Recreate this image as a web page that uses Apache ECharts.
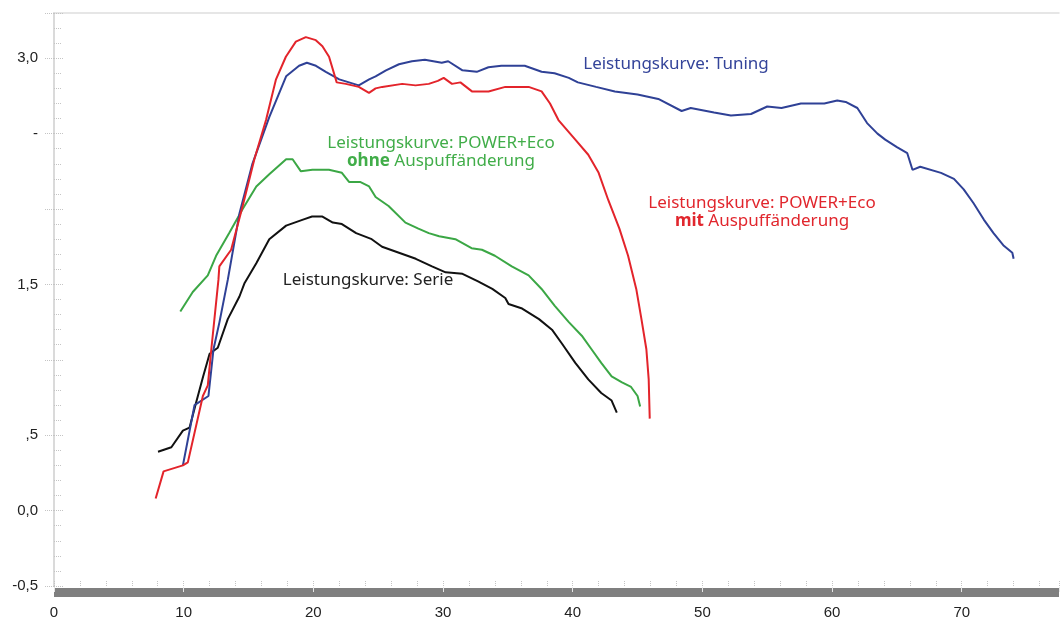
<!DOCTYPE html>
<html>
<head>
<meta charset="utf-8">
<script src="https://cdn.jsdelivr.net/npm/echarts@6/dist/echarts.min.js"></script>
<style>
html,body{margin:0;padding:0;background:#fff;}
#chart{width:1062px;height:620px;}
</style>
</head>
<body>
<div id="chart"></div>
<script>
// ---- data (x, power) ----
const serie = [[8.02,0.39],[9.05,0.42],[9.94,0.53],[10.45,0.55],[10.97,0.72],[11.5,0.89],[12.0,1.04],[12.63,1.08],[13.4,1.27],[14.3,1.42],[14.7,1.51],[15.6,1.64],[16.6,1.80],[17.9,1.89],[19.2,1.93],[19.9,1.95],[20.7,1.95],[21.5,1.91],[22.2,1.90],[23.3,1.84],[24.5,1.80],[25.3,1.75],[26.6,1.71],[27.9,1.67],[29.15,1.62],[30.2,1.58],[31.5,1.57],[32.7,1.52],[33.8,1.47],[34.8,1.41],[35.05,1.37],[36.1,1.34],[37.4,1.27],[38.4,1.20],[39.15,1.11],[40.2,0.98],[41.2,0.87],[42.2,0.78],[43.0,0.73],[43.4,0.65]];
const ohne = [[9.74,1.32],[10.7,1.45],[11.86,1.56],[12.5,1.69],[13.5,1.84],[14.55,2.0],[15.6,2.15],[16.6,2.23],[17.9,2.33],[18.4,2.33],[19.04,2.25],[19.93,2.26],[21.2,2.26],[22.2,2.24],[22.75,2.18],[23.6,2.18],[24.3,2.15],[24.8,2.08],[25.8,2.02],[27.1,1.91],[28.1,1.87],[28.9,1.84],[29.7,1.82],[30.95,1.80],[32.2,1.74],[33.0,1.73],[34.0,1.69],[35.3,1.62],[36.6,1.56],[37.6,1.47],[38.6,1.36],[39.7,1.25],[40.7,1.16],[41.45,1.07],[42.2,0.98],[43.0,0.89],[43.8,0.85],[44.5,0.82],[45.0,0.76],[45.2,0.69]];
const mit = [[7.84,0.08],[8.45,0.26],[9.94,0.30],[10.32,0.32],[11.48,0.76],[11.86,0.83],[12.12,1.06],[12.68,1.53],[12.75,1.62],[13.66,1.73],[14.55,2.02],[15.45,2.33],[16.35,2.59],[17.12,2.86],[17.88,3.01],[18.65,3.11],[19.42,3.14],[20.19,3.12],[20.7,3.08],[21.21,3.01],[21.8,2.84],[22.5,2.83],[23.5,2.81],[24.29,2.77],[24.8,2.80],[25.31,2.81],[26.85,2.83],[27.88,2.82],[28.9,2.83],[29.6,2.85],[30.05,2.87],[30.69,2.83],[31.34,2.84],[32.23,2.78],[33.51,2.78],[34.8,2.81],[36.6,2.81],[37.6,2.78],[38.25,2.70],[38.9,2.59],[40.2,2.46],[41.2,2.36],[42.0,2.24],[42.74,2.06],[43.6,1.87],[44.27,1.69],[44.9,1.47],[45.3,1.27],[45.68,1.07],[45.86,0.87],[45.94,0.61]];
const tuning = [[9.94,0.30],[10.84,0.70],[11.91,0.76],[12.3,1.07],[12.76,1.25],[13.4,1.53],[14.3,1.97],[15.3,2.30],[16.6,2.61],[17.9,2.88],[18.9,2.95],[19.5,2.97],[20.2,2.95],[20.96,2.91],[22.0,2.86],[23.5,2.82],[24.3,2.86],[24.8,2.88],[25.6,2.92],[26.6,2.96],[27.6,2.98],[28.6,2.99],[29.9,2.97],[30.4,2.98],[31.5,2.92],[32.6,2.91],[33.5,2.94],[34.5,2.95],[36.3,2.95],[37.6,2.91],[38.6,2.90],[39.7,2.87],[40.4,2.84],[41.8,2.81],[43.25,2.78],[45.0,2.76],[46.6,2.73],[48.4,2.65],[49.1,2.67],[50.9,2.64],[52.2,2.62],[53.75,2.63],[55.0,2.68],[56.1,2.67],[57.6,2.70],[59.4,2.70],[60.4,2.72],[61.05,2.71],[61.95,2.67],[62.7,2.57],[63.5,2.50],[64.1,2.46],[65.0,2.41],[65.8,2.37],[66.2,2.26],[66.8,2.28],[68.4,2.24],[69.4,2.20],[70.15,2.13],[70.9,2.04],[71.7,1.93],[72.45,1.84],[73.2,1.76],[73.9,1.71],[74.0,1.67]];
const yTickLabels = {'-0.5':'-0,5','0':'0,0','0.5':',5','1':'','1.5':'1,5','2':'','2.5':'-','3':'3,0'};
const xTickLabels = {'0':'0','10':'10','20':'20','30':'30','40':'40','50':'50','60':'60','70':'70'};

const chart = echarts.init(document.getElementById('chart'), null, {renderer:'canvas'});
const X = {min:0, max:77.5, interval:10};
const Y = {min:-0.5, max:3.3, interval:0.5};
const tickGray = '#c4c4c4';
const annoFont = '17px "Noto Sans", Lato, sans-serif';
const annoBold = 'bold 17px "Noto Sans", Lato, sans-serif';

chart.setOption({
  animation:false,
  backgroundColor:'#fff',
  grid:{left:54, right:0, top:13, bottom:32},
  xAxis:[
    {type:'value', ...X, position:'bottom', offset:6,
     axisLine:{show:true, onZero:false, lineStyle:{color:'#7f7f7f', width:9, type:'solid', cap:'butt'}},
     axisTick:{show:true, inside:true, length:5, lineStyle:{color:'#e6e6e6', width:1, type:'solid'}},
     axisLabel:{margin:13, fontSize:15, color:'#222', fontFamily:'"Liberation Sans", Arial, sans-serif',
       formatter:v=>xTickLabels[String(v)]||''},
     splitLine:{show:false}},
    {type:'value', ...X, position:'bottom', offset:0,
     axisLine:{show:false, onZero:false},
     axisTick:{show:true, inside:true, length:6, lineStyle:{color:tickGray, width:1, type:'dotted'}},
     minorTick:{show:true, splitNumber:5, length:5, lineStyle:{color:tickGray, width:1, type:'dotted'}},
     axisLabel:{show:false}, splitLine:{show:false}},
    {type:'value', ...X, position:'top',
     axisLine:{show:true, onZero:false, lineStyle:{color:'#dedede', width:1.5, type:'solid'}},
     axisTick:{show:false}, axisLabel:{show:false}, splitLine:{show:false}}
  ],
  yAxis:[
    {type:'value', ...Y, position:'left',
     axisLine:{show:true, onZero:false, lineStyle:{color:'#dadada', width:2, type:'solid'}},
     axisTick:{show:true, inside:false, length:9, lineStyle:{color:tickGray, width:1, type:'dotted'}},
     axisLabel:{margin:16, fontSize:15, color:'#222', fontFamily:'"Liberation Sans", Arial, sans-serif',
       formatter:v=>{const k=String(Math.round(v*10)/10); return yTickLabels[k]!==undefined?yTickLabels[k]:'';}},
     splitLine:{show:false}},
    {type:'value', ...Y, position:'left',
     axisLine:{show:false, onZero:false},
     axisTick:{show:true, inside:true, length:9, lineStyle:{color:tickGray, width:1, type:'dotted'}},
     minorTick:{show:true, splitNumber:5, length:7, lineStyle:{color:tickGray, width:1, type:'dotted'}},
     axisLabel:{show:false}, splitLine:{show:false}}
  ],
  series:[
    {name:'Serie', type:'line', data:serie, showSymbol:false, lineStyle:{color:'#111111', width:2}, z:3},
    {name:'ohne', type:'line', data:ohne, showSymbol:false, lineStyle:{color:'#3ba745', width:2}, z:4},
    {name:'Tuning', type:'line', data:tuning, showSymbol:false, lineStyle:{color:'#2f4196', width:2}, z:5},
    {name:'mit', type:'line', data:mit, showSymbol:false, lineStyle:{color:'#e3242b', width:2}, z:6}
  ],
  graphic:[
    {type:'text', x:676, y:64, z:10, style:{text:'Leistungskurve: Tuning', font:annoFont, fill:'#34449a', textAlign:'center', textVerticalAlign:'middle'}},
    {type:'text', x:441, y:152, z:10, style:{
      text:'{n|Leistungskurve: POWER+Eco}\n{b|ohne}{n| Auspuffänderung}',
      textAlign:'center', textVerticalAlign:'middle', fill:'#41ad49',
      rich:{n:{font:annoFont, fill:'#41ad49', lineHeight:18}, b:{font:annoBold, fill:'#41ad49', lineHeight:18}}}},
    {type:'text', x:762, y:212, z:10, style:{
      text:'{n|Leistungskurve: POWER+Eco}\n{b|mit}{n| Auspuffänderung}',
      textAlign:'center', textVerticalAlign:'middle', fill:'#e1262d',
      rich:{n:{font:annoFont, fill:'#e1262d', lineHeight:18}, b:{font:annoBold, fill:'#e1262d', lineHeight:18}}}},
    {type:'text', x:368, y:280, z:10, style:{text:'Leistungskurve: Serie', font:annoFont, fill:'#222', textAlign:'center', textVerticalAlign:'middle'}}
  ]
});
</script>
</body>
</html>
